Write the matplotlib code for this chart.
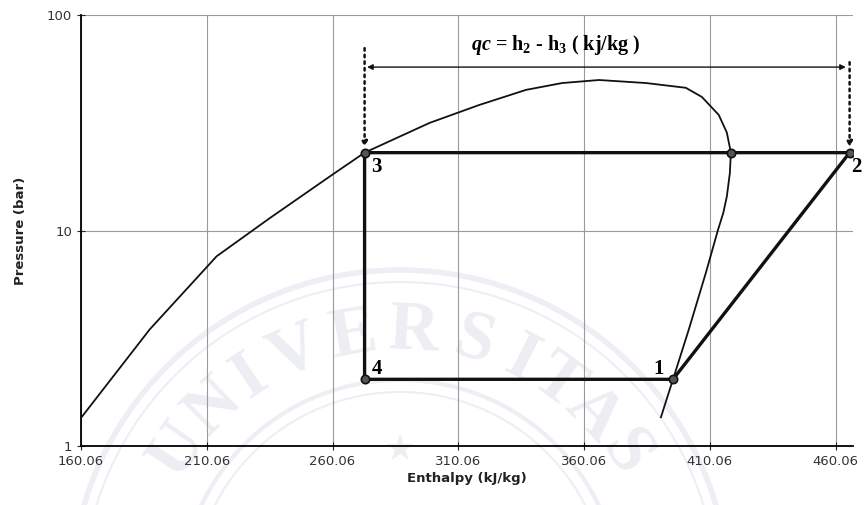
import numpy as np
import matplotlib.pyplot as plt

# saturation dome
dome_h = [160.06, 187.4, 214.0, 235.0, 260.06, 272.8, 298.6, 318.4, 337.0, 351.3, 366.0,
          384.7, 400.5, 406.9, 413.6, 416.8, 418.4, 418.0, 416.8, 415.4, 413.2,
          408.5, 401.7, 395.4, 390.6]
dome_p = [1.35, 3.48, 7.6, 11.4, 18.2, 23.0, 31.6, 38.3, 45.0, 48.4, 50.0,
          48.4, 46.0, 41.7, 34.4, 28.5, 23.0, 18.5, 14.4, 12.1, 10.0,
          6.39, 3.48, 2.04, 1.36]

# refrigeration cycle states 1-2-3-4
cycle_names = ['1', '2', '3', '4']
cycle_h = [395.4, 465.6, 272.8, 272.8]
cycle_p = [2.04, 23.0, 23.0, 2.04]
sat_vap_h = 418.4

x_ticks = [160.06, 210.06, 260.06, 310.06, 360.06, 410.06, 460.06]
y_ticks = [1, 10, 100]

plt.rcParams['mathtext.fontset'] = 'custom'
plt.rcParams['mathtext.rm'] = 'Liberation Serif:bold'
plt.rcParams['mathtext.it'] = 'Liberation Serif:italic:bold'

fig = plt.figure(figsize=(8.67, 5.05), dpi=100)
ax = fig.add_axes([0.0934, 0.1168, 0.8906, 0.8532])
ax.set_facecolor('none')

# faint watermark seal in the background (pixel coords of the figure)
W, H = 867, 505
cx, cy = 400, 600
t = np.linspace(0, np.pi, 200)
for r, lw in [(330, 4), (318, 1.5), (220, 3), (208, 1.5)]:
    fig.lines.append(plt.Line2D((cx + r * np.cos(t)) / W, 1 - (cy - r * np.sin(t)) / H,
                                transform=fig.transFigure, color='#eeeef4', lw=lw, zorder=-5))
word = 'UNIVERSITAS'
angs = [146, 134, 124, 113, 100, 87, 74, 63, 54, 44, 33]
for ch, a in zip(word, angs):
    ar = np.radians(a)
    px, py = cx + 268 * np.cos(ar), cy - 268 * np.sin(ar)
    fig.text(px / W, 1 - py / H, ch, fontsize=50, family='Liberation Serif', fontweight='bold',
             color='#ededf4', rotation=a - 90, ha='center', va='center', zorder=-5)
fig.text(400 / W, 1 - 450 / H, '\u2605', fontsize=26, color='#ededf4', ha='center',
         va='center', zorder=-5)

ax.set_yscale('log')
ax.set_xlim(160.06, 467)
ax.set_ylim(1, 100)

ax.plot(dome_h, dome_p, color='#111111', lw=1.3, zorder=3)

loop_h = cycle_h + [cycle_h[0]]
loop_p = cycle_p + [cycle_p[0]]
ax.plot(loop_h, loop_p, color='#111111', lw=2.4, zorder=4)
ax.plot(cycle_h + [sat_vap_h], cycle_p + [cycle_p[1]], 'o', ms=6,
        mfc='#555555', mec='#111111', mew=1.2, zorder=5)

lab_off = {'1': (-14, 4), '2': (1, -14), '3': (5, -14), '4': (5, 4)}
for n, h, p in zip(cycle_names, cycle_h, cycle_p):
    ax.annotate(n, (h, p), xytext=lab_off[n], textcoords='offset points',
                fontsize=15, family='Liberation Serif', fontweight='bold', zorder=6)

# condenser heat arrows
arr_p = 57.4
for h, top in [(cycle_h[2], 70.3), (cycle_h[1], 60.5)]:
    ax.annotate('', xy=(h, cycle_p[2] * 1.06), xytext=(h, top),
                arrowprops=dict(arrowstyle='-|>', ls=':', lw=1.8, color='#111111',
                                mutation_scale=8, shrinkA=0, shrinkB=0))
ax.annotate('', xy=(cycle_h[2] + 1, arr_p), xytext=(cycle_h[1] - 1.5, arr_p),
            arrowprops=dict(arrowstyle='<|-|>', lw=1.0, color='#111111',
                            mutation_scale=8, shrinkA=0, shrinkB=0))
ax.text(348.6, 72.5, r'$\mathit{qc}$ = h$_{2}$ - h$_{3}$ ( kj/kg )', fontsize=14.5,
        family='Liberation Serif', fontweight='bold', ha='center', va='center')

ax.set_xticks(x_ticks)
ax.set_xticklabels([f'{v:.2f}' for v in x_ticks])
ax.set_yticks(y_ticks)
ax.set_yticklabels([str(v) for v in y_ticks])
ax.minorticks_off()
ax.tick_params(direction='inout', length=6, labelsize=9.5, labelcolor='#333333', color='#222222')
ax.grid(True, color='#9a9a9a', lw=0.8)
for s in ['top', 'right']:
    ax.spines[s].set_visible(False)
ax.spines['left'].set_linewidth(1.3)
ax.spines['bottom'].set_linewidth(1.3)

ax.set_xlabel('Enthalpy (kJ/kg)', fontsize=9.5, fontweight='bold', color='#222222', labelpad=3)
ax.set_ylabel('Pressure (bar)', fontsize=9.5, fontweight='bold', color='#222222', labelpad=14)

fig.savefig('out.png', dpi=100)
